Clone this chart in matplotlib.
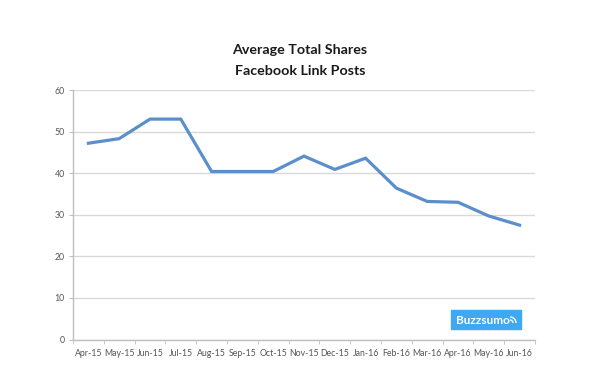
import matplotlib
matplotlib.use("Agg")
import matplotlib.pyplot as plt
from matplotlib.patches import Arc
import numpy as np

months = ["Apr-15", "May-15", "Jun-15", "Jul-15", "Aug-15", "Sep-15", "Oct-15", "Nov-15",
          "Dec-15", "Jan-16", "Feb-16", "Mar-16", "Apr-16", "May-16", "Jun-16"]
shares = [47.2, 48.3, 53.0, 53.0, 40.4, 40.4, 40.4, 44.1, 40.9, 43.6, 36.4, 33.2, 33.0, 29.7, 27.5]
yticks = [0, 10, 20, 30, 40, 50, 60]

plt.rcParams['font.family'] = ['Lato', 'DejaVu Sans']
fig = plt.figure(figsize=(6, 3.75), dpi=100)
W, H = 600, 375
ax = fig.add_axes([73 / W, 1 - 339.5 / H, (535 - 73) / W, (339.5 - 90) / H])

x = np.arange(len(months))
ax.plot(x, shares, color="#5a8fcb", lw=2.3, solid_joinstyle="miter", zorder=3)
ax.set_xlim(-0.5, len(months) - 0.5)
ax.set_ylim(0, 60)
ax.set_yticks(yticks)
ax.set_yticklabels([str(v) for v in yticks], fontsize=6.3, color="#555555")
ax.set_xticks(x)
ax.set_xticklabels(months, fontsize=6.3, color="#555555")
ax.tick_params(axis='x', which='major', length=0, pad=7)
ax.set_xticks(np.arange(-0.5, len(months)), minor=True)
ax.tick_params(axis='x', which='minor', length=3, color="#bfbfbf", direction='out')
ax.tick_params(axis='y', length=3, color="#bfbfbf", pad=3)
ax.grid(axis='y', color="#d9d9d9", lw=1.0, zorder=0)
for s in ["top", "right"]:
    ax.spines[s].set_visible(False)
for s in ["left", "bottom"]:
    ax.spines[s].set_color("#bfbfbf")
    ax.spines[s].set_linewidth(1.0)

fig.text(0.5, 1 - 50 / H, "Average Total Shares", ha="center", va="center",
         fontsize=10.3, fontweight="bold", color="#1a1a1a")
fig.text(0.5, 1 - 71 / H, "Facebook Link Posts", ha="center", va="center",
         fontsize=10.3, fontweight="bold", color="#1a1a1a")

# Buzzsumo badge
bx0, by0, bx1, by1 = 451, 310, 521, 329
fig.patches.append(plt.Rectangle((bx0 / W, 1 - by1 / H), (bx1 - bx0) / W, (by1 - by0) / H,
                                 transform=fig.transFigure, color="#3ea8f2", zorder=5))
fig.text((bx0 + 5) / W, 1 - (by0 + by1 + 1) / 2 / H, "Buzzsumo", ha="left", va="center",
         fontsize=8.5, fontweight="bold", color="white", zorder=6)
# small signal arcs
cx, cy = 510 / W, 1 - 323 / H
for r in (3, 6):
    fig.patches.append(Arc((cx, cy), 2 * r / W, 2 * r / H, theta1=0, theta2=90,
                           transform=fig.transFigure, color="white", lw=1.0, zorder=6))

fig.savefig("out.png", dpi=100, facecolor="white")
